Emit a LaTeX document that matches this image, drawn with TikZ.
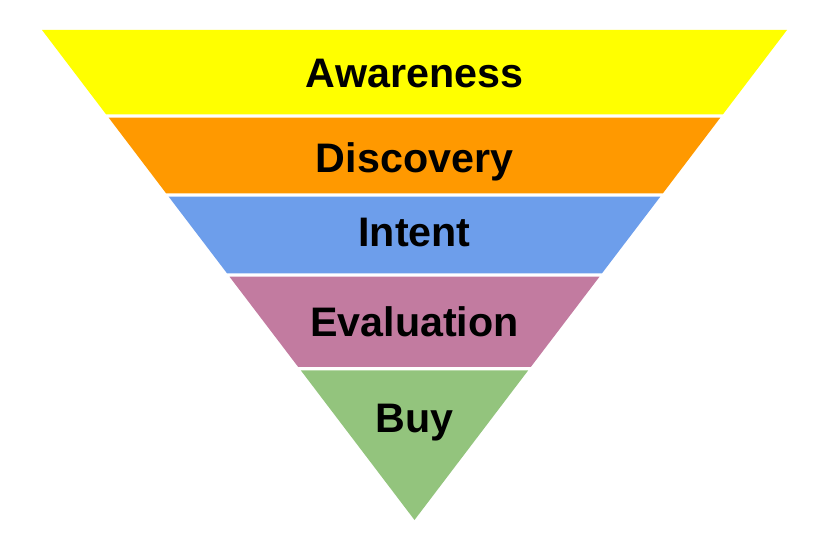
\documentclass[tikz,border=0pt]{standalone}
\usepackage{fontspec}
\setmainfont{Liberation Sans}
\definecolor{awareyellow}{HTML}{FFFF00}
\definecolor{discorange}{HTML}{FF9900}
\definecolor{intentblue}{HTML}{6D9EEB}
\definecolor{evalpink}{HTML}{C27BA0}
\definecolor{buygreen}{HTML}{93C47D}
\tikzset{stagelabel/.style={anchor=base, font=\bfseries\fontsize{35.2}{40}\selectfont}}
\begin{document}
\begin{tikzpicture}[x=0.03cm,y=-0.03cm]
\useasboundingbox (0,0) rectangle (832,544);
\fill[awareyellow] (42,30) -- (787,30) -- (722.8,114.5) -- (106.2,114.5) -- cycle;
\fill[discorange] (108.7,117.7) -- (720.3,117.7) -- (662.9,193.3) -- (166.1,193.3) -- cycle;
\fill[intentblue] (168.7,196.7) -- (660.3,196.7) -- (602.0,273.3) -- (227.0,273.3) -- cycle;
\fill[evalpink] (229.5,276.7) -- (599.5,276.7) -- (530.8,367) -- (298.2,367) -- cycle;
\fill[buygreen] (300.9,370.5) -- (528.1,370.5) -- (414.5,520) -- cycle;
\node[stagelabel] (aware) at (414.5,87.3) {Awareness};
\node[stagelabel] (disc) at (414.5,172.3) {Discovery};
\node[stagelabel] (intent) at (414.5,246.3) {Intent};
\node[stagelabel] (eval) at (414.5,337) {Evaluation};
\node[stagelabel] (buy) at (414.5,432.3) {Buy};
\end{tikzpicture}
\end{document}
